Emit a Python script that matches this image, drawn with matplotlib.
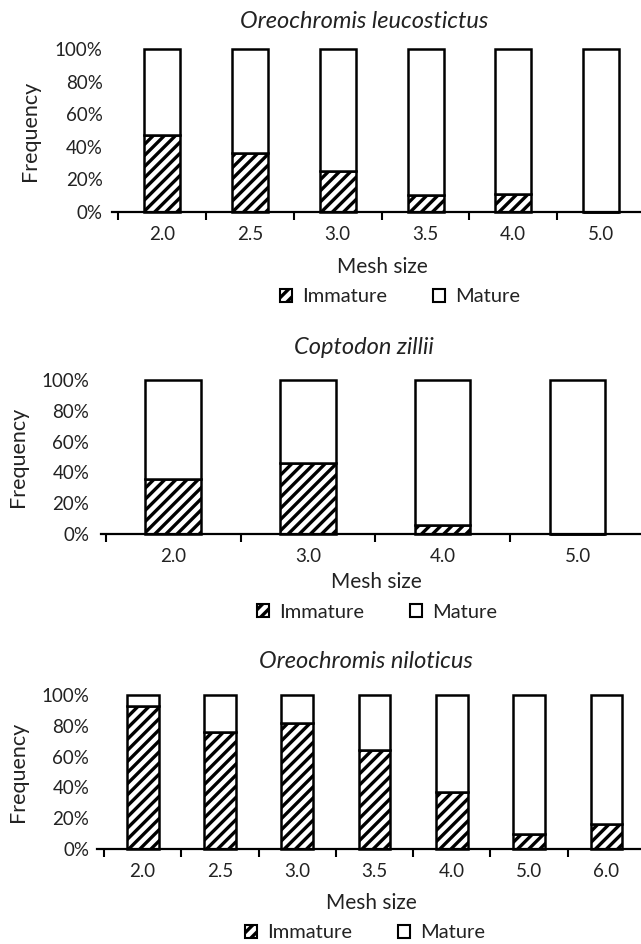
import numpy as np
import matplotlib; matplotlib.use('Agg')
import matplotlib.pyplot as plt
from matplotlib.patches import Patch
from matplotlib.ticker import FixedLocator

plt.rcParams['font.family'] = ['Lato', 'DejaVu Sans']
plt.rcParams['hatch.linewidth'] = 2.4
TXT = '#222222'

# Immature share (%) per mesh size
leuc_mesh = ['2.0', '2.5', '3.0', '3.5', '4.0', '5.0']
leuc_imm = [47, 36, 25, 10, 11, 0]
zill_mesh = ['2.0', '3.0', '4.0', '5.0']
zill_imm = [36, 46, 6, 0]
nilo_mesh = ['2.0', '2.5', '3.0', '3.5', '4.0', '5.0', '6.0']
nilo_imm = [93, 76, 82, 64, 37, 10, 16]

W, H = 641, 944
fig = plt.figure(figsize=(W/100, H/100), dpi=100, facecolor='white')

# pixel layout per panel: axis start x, 0% y, 100% y, left overhang (data units),
# ytick pad, title (x,y), xlabel (x,y), legend centre (x,y), ylabel x
panels = [
    dict(name='Oreochromis leucostictus', mesh=leuc_mesh, imm=leuc_imm,
         x0=111.7, y0=211.7, y1=49.3, d=0.075, ypad=6.6,
         title=(364, 21.7), xlab=(382, 267), leg=(400, 297), ylab=30),
    dict(name='Coptodon zillii', mesh=zill_mesh, imm=zill_imm,
         x0=100.7, y0=534, y1=380, d=0.037, ypad=8.2,
         title=(364, 347), xlab=(376, 582), leg=(377, 612), ylab=18),
    dict(name='Oreochromis niloticus', mesh=nilo_mesh, imm=nilo_imm,
         x0=97.3, y0=849, y1=695, d=0.087, ypad=5.8,
         title=(366, 662), xlab=(371, 903), leg=(365, 933), ylab=18),
]

for p in panels:
    ax = fig.add_axes([p['x0']/W, 1-p['y0']/H, (645-p['x0'])/W, (p['y0']-p['y1'])/H])
    n = len(p['mesh'])
    x = np.arange(n)
    imm = np.array(p['imm'], dtype=float)/100
    mat = 1 - imm
    ax.bar(x, imm, width=0.41, color='white', edgecolor='black', hatch='///',
           linewidth=1.8, clip_on=False, zorder=3)
    ax.bar(x, mat, width=0.41, bottom=imm, color='white', edgecolor='black',
           linewidth=1.8, clip_on=False, zorder=3)
    ax.set_xlim(-0.5-p['d'], n-0.5)
    ax.set_ylim(0, 1)
    ax.set_yticks(np.linspace(0, 1, 6))
    ax.set_yticklabels([f'{v}%' for v in range(0, 101, 20)])
    ax.set_xticks(x)
    ax.set_xticklabels(p['mesh'])
    ax.xaxis.set_minor_locator(FixedLocator(np.arange(n+1)-0.5))
    ax.tick_params(axis='x', which='major', length=0, pad=10, labelsize=13.5, labelcolor=TXT)
    ax.tick_params(axis='x', which='minor', length=5.5, width=1.5, direction='out', color='black')
    ax.tick_params(axis='y', length=0, pad=p['ypad'], labelsize=13.5, labelcolor=TXT)
    for s in ['top', 'right', 'left']:
        ax.spines[s].set_visible(False)
    ax.spines['bottom'].set_linewidth(1.6)
    ax.spines['bottom'].set_zorder(4)

    fig.text(p['title'][0]/W, 1-p['title'][1]/H, p['name'], ha='center', va='center',
             fontsize=17, style='italic', color=TXT)
    fig.text(p['xlab'][0]/W, 1-p['xlab'][1]/H, 'Mesh size', ha='center', va='center',
             fontsize=15, color=TXT)
    fig.text(p['ylab']/W, 1-(p['y0']+p['y1'])/2/H, 'Frequency', ha='center', va='center',
             rotation=90, fontsize=15.5, color=TXT)
    handles = [Patch(facecolor='white', edgecolor='black', hatch='///', linewidth=1.5, label='Immature'),
               Patch(facecolor='white', edgecolor='black', linewidth=1.5, label='Mature')]
    fig.legend(handles=handles, loc='center', bbox_to_anchor=(p['leg'][0]/W, 1-p['leg'][1]/H),
               ncol=2, frameon=False, fontsize=14.5, handlelength=0.6, handleheight=0.6,
               handletextpad=0.5, columnspacing=2.3, borderpad=0, labelcolor=TXT)

plt.savefig('out.png', dpi=100, facecolor='white')
